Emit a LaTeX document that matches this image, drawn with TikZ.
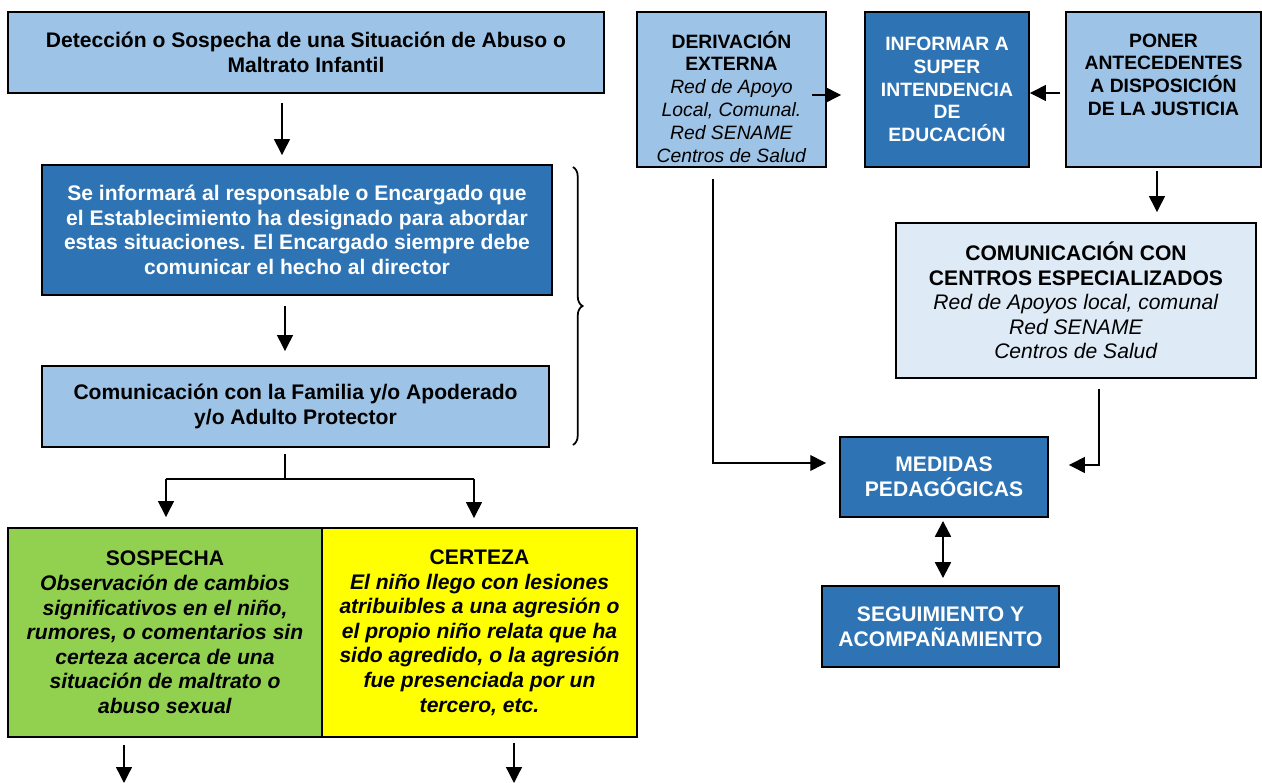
\documentclass[tikz,border=0pt]{standalone}
\usepackage{fontspec}
\setmainfont{Liberation Sans}
\usetikzlibrary{arrows.meta,decorations.pathreplacing}

\definecolor{celeste}{HTML}{9DC3E6}
\definecolor{azul}{HTML}{2E74B5}
\definecolor{palido}{HTML}{DEEBF7}
\definecolor{verde}{HTML}{92D050}
\definecolor{amarillo}{HTML}{FFFF00}

\newcommand{\letradoce}{\fontsize{12}{14}\selectfont}
\newcommand{\letraonce}{\fontsize{11}{13}\selectfont}

\begin{document}
\begin{tikzpicture}[x=0.02cm,y=-0.02cm,
    caja/.style={draw=black,line width=1.1pt,align=center,inner sep=0pt,font=\letradoce\bfseries},
    flecha/.style={line width=0.75pt,-{Triangle[length=9pt,width=9pt]}},
    linea/.style={line width=0.75pt}]
                \useasboundingbox (0,0) rectangle (1262,783);

                % columna izquierda
                \node[caja,fill=celeste,minimum width=11.92cm,minimum height=1.62cm] (deteccion) at (306,52.5)
                    {Detección o Sospecha de una Situación de Abuso o\\Maltrato Infantil};
                \node[caja,fill=azul,text=white,minimum width=10.2cm,minimum height=2.6cm] (encargado) at (297,230)
                    {Se informará al responsable o Encargado que\\el Establecimiento ha designado para abordar\\estas situaciones. El Encargado siempre debe\\comunicar el hecho al director};
                \node[caja,fill=celeste,minimum width=10.14cm,minimum height=1.62cm] (familia) at (295.5,406.5)
                    {Comunicación con la Familia y/o Apoderado\\y/o Adulto Protector};
                \node[caja,fill=verde,minimum width=6.28cm,minimum height=4.18cm] (sospecha) at (165,632.5)
                    {SOSPECHA\\\textit{Observación de cambios}\\\textit{significativos en el niño,}\\\textit{rumores, o comentarios sin}\\\textit{certeza acerca de una}\\\textit{situación de maltrato o}\\\textit{abuso sexual}};
                \node[caja,fill=amarillo,minimum width=6.3cm,minimum height=4.18cm] (certeza) at (479.5,632.5)
                    {CERTEZA\\\textit{El niño llego con lesiones}\\\textit{atribuibles a una agresión o}\\\textit{el propio niño relata que ha}\\\textit{sido agredido, o la agresión}\\\textit{fue presenciada por un}\\\textit{tercero, etc.}};

                % columna derecha
                \node[caja,fill=celeste,font=\letraonce,minimum width=3.78cm,minimum height=3.1cm] (derivacion) at (731.5,89.5)
                    {\rule{0pt}{18pt}\textbf{DERIVACIÓN}\\\textbf{EXTERNA}\\\textit{Red de Apoyo}\\\textit{Local, Comunal.}\\\textit{Red SENAME}\\\textit{Centros de Salud}};
                \node[caja,fill=azul,text=white,font=\letraonce\bfseries,minimum width=3.28cm,minimum height=3.1cm] (superint) at (947,89.5)
                    {INFORMAR A\\SUPER\\INTENDENCIA\\DE\\EDUCACIÓN};
                \node[caja,fill=celeste,font=\letraonce\bfseries,minimum width=3.9cm,minimum height=3.1cm] (justicia) at (1163.5,89.5)
                    {PONER\\ANTECEDENTES\\A DISPOSICIÓN\\DE LA JUSTICIA\\[4pt]\mbox{}};
                \node[caja,fill=palido,minimum width=7.2cm,minimum height=3.1cm] (centros) at (1076,300.5)
                    {COMUNICACIÓN CON\\CENTROS ESPECIALIZADOS\\\textmd{\textit{Red de Apoyos local, comunal}}\\\textmd{\textit{Red SENAME}}\\\textmd{\textit{Centros de Salud}}};
                \node[caja,fill=azul,text=white,minimum width=4.16cm,minimum height=1.6cm] (medidas) at (944,477)
                    {MEDIDAS\\PEDAGÓGICAS};
                \node[caja,fill=azul,text=white,minimum width=4.74cm,minimum height=1.62cm] (seguimiento) at (940.5,626.5)
                    {SEGUIMIENTO Y\\ACOMPAÑAMIENTO};

                \coordinate (ejeA) at (282,0);
                \coordinate (ejeB) at (285,0);
                \coordinate (nudo) at (285,479);
                \coordinate (izq) at (166,479);
                \coordinate (der) at (474,479);
                \coordinate (finA) at (124,783);
                \coordinate (finB) at (514,783);
                \coordinate (ejeD) at (713,0);
                \coordinate (ejeP) at (1157,0);
                \coordinate (ejeC) at (1099,0);
                \coordinate (ejeM) at (943,0);
                \coordinate (filaA) at (0,95);
                \coordinate (filaB) at (0,93);
                \coordinate (filaM) at (0,463);
                \coordinate (filaN) at (0,465);
                \coordinate (salida) at ([xshift=-0.3cm]derivacion.east);

                \draw[flecha,shorten <=0.18cm,shorten >=0.18cm] (ejeA |- deteccion.south) -- (ejeA |- encargado.north);
                \draw[flecha,shorten <=0.2cm,shorten >=0.28cm] (ejeB |- encargado.south) -- (ejeB |- familia.north);
                \draw[linea,shorten <=0.12cm] (ejeB |- familia.south) -- (nudo);
                \draw[linea] (izq) -- (der);
                \draw[flecha,shorten >=0.2cm] (izq) -- (izq |- sospecha.north);
                \draw[flecha,shorten >=0.18cm] (der) -- (der |- certeza.north);
                \draw[flecha,shorten <=0.14cm] (finA |- sospecha.south) -- (finA);
                \draw[flecha,shorten <=0.1cm] (finB |- certeza.south) -- (finB);

                \draw[line width=1pt,decorate,decoration={brace,amplitude=5.5pt}]
                    ([xshift=0.4cm,yshift=-0.06cm]encargado.north east) -- ([xshift=0.46cm,yshift=0.06cm]familia.south east);

                \draw[flecha,shorten >=0.46cm] (salida |- filaA) -- (superint.west |- filaA);
                \draw[flecha,shorten <=0.1cm] (justicia.west |- filaB) -- (superint.east |- filaB);
                \draw[flecha,shorten <=0.06cm,shorten >=0.2cm] (ejeP |- justicia.south) -- (ejeP |- centros.north);
                \draw[flecha,shorten <=0.22cm,shorten >=0.26cm] (ejeD |- derivacion.south) |- (medidas.west |- filaM);
                \draw[flecha,shorten <=0.2cm,shorten >=0.4cm] (ejeC |- centros.south) |- (medidas.east |- filaN);
                \draw[line width=1.3pt,{Triangle[length=9pt,width=9pt]}-{Triangle[length=9pt,width=9pt]},shorten <=0.06cm,shorten >=0.14cm]
                    (ejeM |- medidas.south) -- (ejeM |- seguimiento.north);

                \end{tikzpicture}
\end{document}
